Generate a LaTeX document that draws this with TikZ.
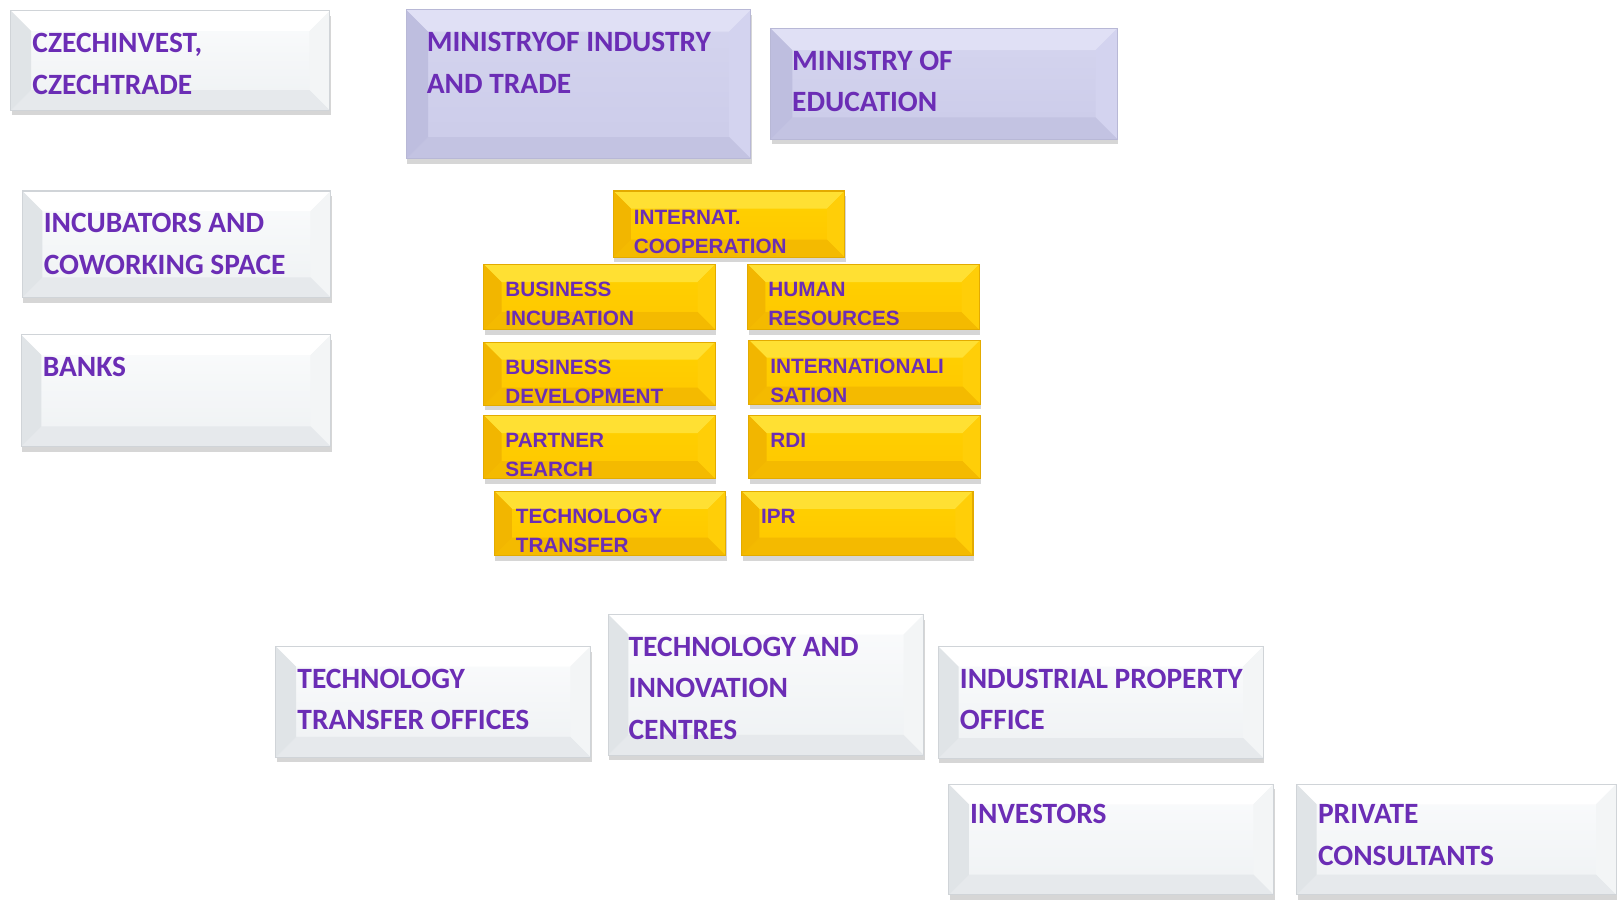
\documentclass[tikz,border=0pt]{standalone}
\usepackage{fontspec}
\usepackage{tikz}
\usetikzlibrary{positioning,shadows}
\newfontfamily\boxfont{Carlito}
\newfontfamily\tilefont{Liberation Sans}
\definecolor{labelpurple}{RGB}{107,45,181}
\definecolor{wface}{HTML}{FBFCFD}
\definecolor{wfaceb}{HTML}{EEF1F3}
\definecolor{wtop}{HTML}{FFFFFF}
\definecolor{wleft}{HTML}{E0E4E7}
\definecolor{wright}{HTML}{F3F5F6}
\definecolor{wbottom}{HTML}{E6E9EC}
\definecolor{wline}{HTML}{D0D4D8}
\definecolor{lface}{HTML}{D5D5EF}
\definecolor{lfaceb}{HTML}{CBCBE9}
\definecolor{ltop}{HTML}{E0E0F5}
\definecolor{lleft}{HTML}{BEBEDF}
\definecolor{lright}{HTML}{D3D3EF}
\definecolor{lbottom}{HTML}{C3C3E2}
\definecolor{lline}{HTML}{B8B8D6}
\definecolor{yface}{HTML}{FFD200}
\definecolor{yfaceb}{HTML}{FFC600}
\definecolor{ytop}{HTML}{FFE033}
\definecolor{yleft}{HTML}{F2B600}
\definecolor{yright}{HTML}{FFCE08}
\definecolor{ybottom}{HTML}{F4BA00}
\definecolor{yline}{HTML}{E3AB00}

\begin{document}
\begin{tikzpicture}[x=0.02cm, y=-0.02cm,
    bevel/.style n args={5}{path picture={
        \path (path picture bounding box.north west) coordinate (nw)
              (path picture bounding box.north east) coordinate (ne)
              (path picture bounding box.south east) coordinate (se)
              (path picture bounding box.south west) coordinate (sw);
        \fill[#1] (nw) -- (ne) -- ([shift={(-#5,-#5)}]ne) -- ([shift={(#5,-#5)}]nw) -- cycle;
        \fill[#2] (ne) -- (se) -- ([shift={(-#5,#5)}]se) -- ([shift={(-#5,-#5)}]ne) -- cycle;
        \fill[#3] (se) -- (sw) -- ([shift={(#5,#5)}]sw) -- ([shift={(-#5,#5)}]se) -- cycle;
        \fill[#4] (sw) -- (nw) -- ([shift={(#5,-#5)}]nw) -- ([shift={(#5,#5)}]sw) -- cycle;
    }},
    panel/.style={rectangle, anchor=north west, inner sep=0pt, line width=0.6pt,
        drop shadow={shadow xshift=0.02cm, shadow yshift=-0.1cm, fill=black, opacity=0.16}},
    whitebox/.style={panel, draw=wline, top color=wface, bottom color=wfaceb,
        bevel={wtop}{wright}{wbottom}{wleft}{0.39cm}},
    lilacbox/.style={panel, draw=lline, top color=lface, bottom color=lfaceb,
        bevel={ltop}{lright}{lbottom}{lleft}{0.42cm}},
    goldbox/.style={panel, draw=yline, top color=yface, bottom color=yfaceb,
        minimum width=4.47cm, bevel={ytop}{yright}{ybottom}{yleft}{0.34cm}},
    boxtext/.style={font=\boxfont\bfseries\fontsize{16.2}{22.8}\selectfont,
        text=labelpurple, align=left, inner sep=0pt},
    tiletext/.style={font=\tilefont\bfseries\fontsize{11.4}{15.9}\selectfont,
        text=labelpurple, align=left, inner sep=0pt},
    ]
    \useasboundingbox (0,0) rectangle (1568,871);

    \node[whitebox, minimum width=6.16cm, minimum height=1.92cm] (czech) at (10,10) {};
    \node[lilacbox, minimum width=6.66cm, minimum height=2.88cm] (mit) at (392,9) {};
    \node[lilacbox, minimum width=6.70cm, minimum height=2.14cm] (moe) at (744,27) {};
    \node[whitebox, minimum width=5.96cm, minimum height=2.06cm] (incub) at (21,184) {};
    \node[whitebox, minimum width=5.98cm, minimum height=2.16cm] (banks) at (20,323) {};

    \node[goldbox, minimum height=1.28cm] (coop) at (592,184) {};
    \node[goldbox, minimum height=1.26cm] (businc) at (467,255) {};
    \node[goldbox, minimum height=1.26cm] (human) at (722,255) {};
    \node[goldbox, minimum height=1.22cm] (busdev) at (467,330) {};
    \node[goldbox, minimum height=1.24cm] (intl) at (723,328) {};
    \node[goldbox, minimum height=1.22cm] (partner) at (467,401) {};
    \node[goldbox, minimum height=1.22cm] (rdi) at (723,401) {};
    \node[goldbox, minimum height=1.24cm] (techtr) at (477,474) {};
    \node[goldbox, minimum height=1.24cm] (ipr) at (716,474) {};

    \node[whitebox, minimum width=6.08cm, minimum height=2.14cm] (tto) at (266,624) {};
    \node[whitebox, minimum width=6.10cm, minimum height=2.72cm] (tic) at (587,593) {};
    \node[whitebox, minimum width=6.28cm, minimum height=2.16cm] (ipo) at (906,624) {};
    \node[whitebox, minimum width=6.28cm, minimum height=2.14cm] (investors) at (916,757) {};
    \node[whitebox, minimum width=6.18cm, minimum height=2.14cm] (private) at (1252,757) {};

    \node[boxtext, below right=0.44cm and 0.42cm of czech.north west] (czech-text) {CZECHINVEST,\\CZECHTRADE};
    \node[boxtext, below right=0.44cm and 0.40cm of mit.north west] (mit-text) {MINISTRYOF INDUSTRY\\AND TRADE};
    \node[boxtext, below right=0.44cm and 0.42cm of moe.north west] (moe-text) {MINISTRY OF\\EDUCATION};
    \node[boxtext, below right=0.44cm and 0.42cm of incub.north west] (incub-text) {INCUBATORS AND\\COWORKING SPACE};
    \node[boxtext, below right=0.44cm and 0.42cm of banks.north west] (banks-text) {BANKS};

    \node[tiletext, below right=0.37cm and 0.40cm of coop.north west] (coop-text) {INTERNAT.\\COOPERATION};
    \node[tiletext, below right=0.35cm and 0.42cm of businc.north west] (businc-text) {BUSINESS\\INCUBATION};
    \node[tiletext, below right=0.35cm and 0.40cm of human.north west] (human-text) {HUMAN\\RESOURCES};
    \node[tiletext, below right=0.35cm and 0.42cm of busdev.north west] (busdev-text) {BUSINESS\\DEVELOPMENT};
    \node[tiletext, below right=0.37cm and 0.42cm of intl.north west] (intl-text) {INTERNATIONALI\\SATION};
    \node[tiletext, below right=0.35cm and 0.42cm of partner.north west] (partner-text) {PARTNER\\SEARCH};
    \node[tiletext, below right=0.35cm and 0.42cm of rdi.north west] (rdi-text) {RDI};
    \node[tiletext, below right=0.35cm and 0.42cm of techtr.north west] (techtr-text) {TECHNOLOGY\\TRANSFER};
    \node[tiletext, below right=0.35cm and 0.38cm of ipr.north west] (ipr-text) {IPR};

    \node[boxtext, below right=0.44cm and 0.42cm of tto.north west] (tto-text) {TECHNOLOGY\\TRANSFER OFFICES};
    \node[boxtext, below right=0.44cm and 0.40cm of tic.north west] (tic-text) {TECHNOLOGY AND\\INNOVATION\\CENTRES};
    \node[boxtext, below right=0.44cm and 0.42cm of ipo.north west] (ipo-text) {INDUSTRIAL PROPERTY\\OFFICE};
    \node[boxtext, below right=0.40cm and 0.42cm of investors.north west] (investors-text) {INVESTORS};
    \node[boxtext, below right=0.40cm and 0.42cm of private.north west] (private-text) {PRIVATE\\CONSULTANTS};
\end{tikzpicture}
\end{document}
